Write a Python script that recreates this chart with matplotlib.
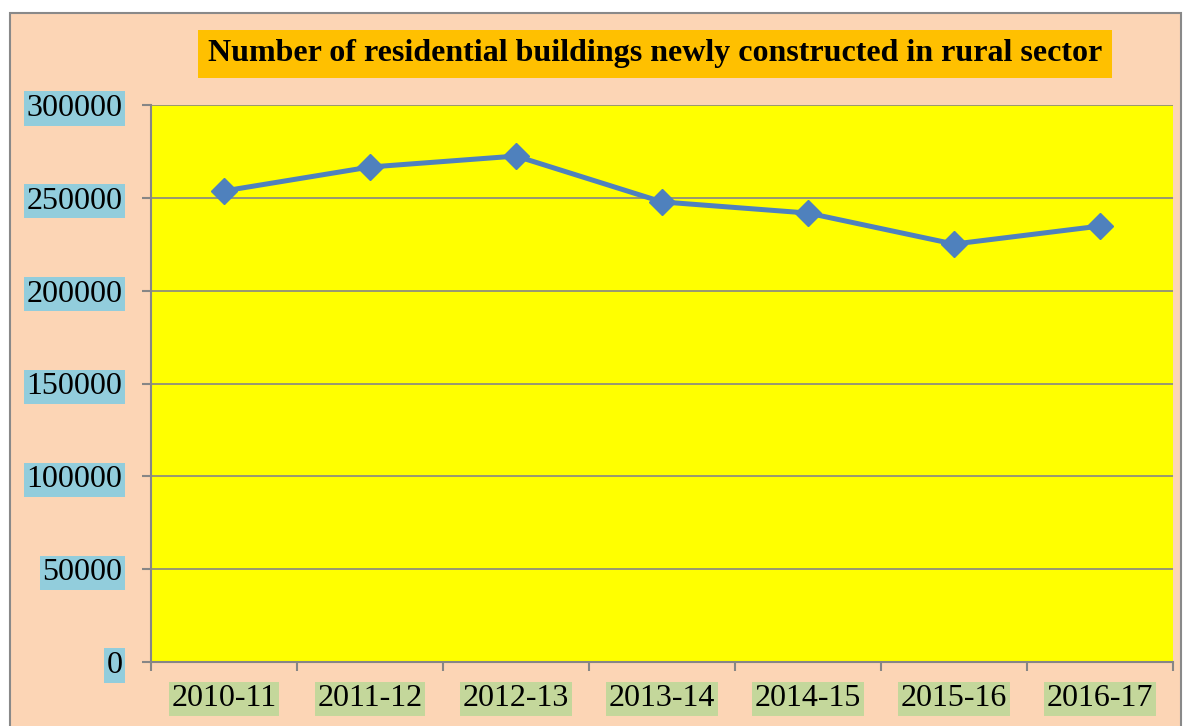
import matplotlib.pyplot as plt
from matplotlib.patches import Rectangle

years = ['2010-11', '2011-12', '2012-13', '2013-14', '2014-15', '2015-16', '2016-17']
buildings = [253700, 266600, 272500, 247800, 241800, 225100, 234800]
yticks = [0, 50000, 100000, 150000, 200000, 250000, 300000]

plt.rcParams['font.family'] = ['Liberation Serif', 'DejaVu Serif']

fig = plt.figure(figsize=(11.9, 7.26), dpi=100)
fig.patch.set_facecolor('white')
W, H = 1190, 726

# outer chart area (peach with grey border, runs off the bottom)
fig.patches.append(Rectangle((10 / W, -0.01), (1181 - 10) / W, 1.01 - 13 / H,
                             transform=fig.transFigure, fc='#FCD5B5', ec='#898989',
                             lw=1.5, zorder=-5))

ax = fig.add_axes([151 / W, 1 - 662 / H, (1173 - 151) / W, (662 - 105) / H])
ax.set_facecolor('#FFFF00')

x = list(range(len(years)))
ax.plot(x, buildings, color='#4F81BD', lw=3.6, marker='D', ms=13, zorder=3)

ax.set_xlim(-0.5, len(years) - 0.5)
ax.set_ylim(0, 300000)
ax.set_yticks(yticks)
ax.set_yticklabels([str(v) for v in yticks])
ax.yaxis.grid(True, color='#868686', lw=1.2)
ax.set_axisbelow(True)

ax.set_xticks(x)
ax.set_xticklabels(years)
ax.set_xticks([i - 0.5 for i in range(len(years) + 1)], minor=True)
ax.tick_params(axis='x', which='major', length=0, pad=16, labelsize=23)
ax.tick_params(axis='x', which='minor', length=6.5, color='#868686', width=1.5)
ax.tick_params(axis='y', length=6.5, color='#868686', width=1.5, pad=14, labelsize=23)

for lab in ax.get_yticklabels():
    lab.set_bbox(dict(boxstyle='square,pad=0.08', fc='#92CDDC', ec='none'))
for lab in ax.get_xticklabels():
    lab.set_bbox(dict(boxstyle='square,pad=0.08', fc='#C4D79B', ec='none'))

for s in ['top', 'right']:
    ax.spines[s].set_visible(False)
for s in ['left', 'bottom']:
    ax.spines[s].set_color('#868686')
    ax.spines[s].set_linewidth(1.5)

fig.text(655 / W, 1 - 54 / H, 'Number of residential buildings newly constructed in rural sector',
         ha='center', va='center', fontsize=23, fontweight='bold',
         bbox=dict(boxstyle='square,pad=0.3', fc='#FFC000', ec='none'))

fig.savefig('out.png', dpi=100, facecolor=fig.get_facecolor())
